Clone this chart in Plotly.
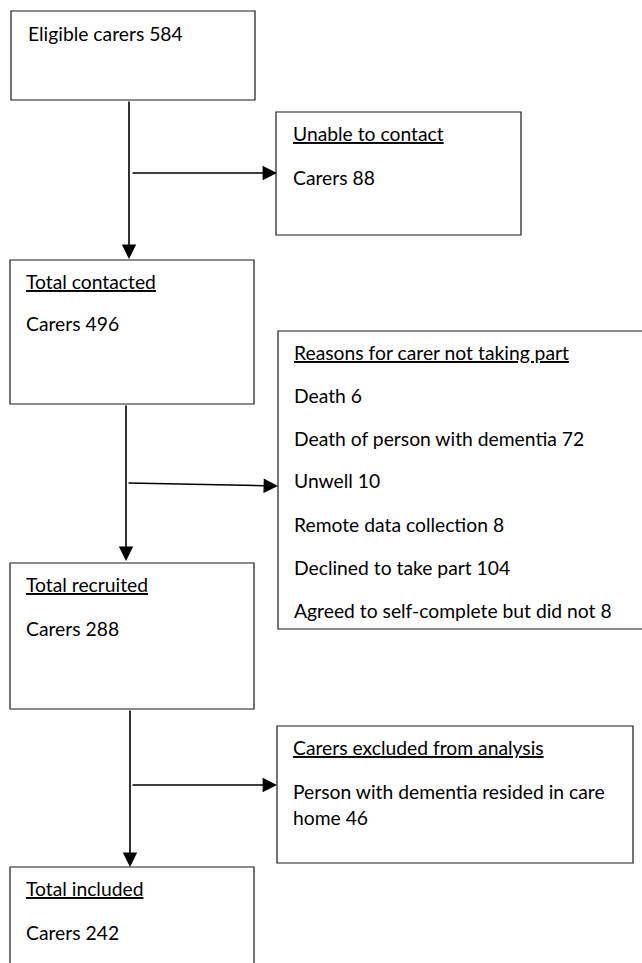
import plotly.graph_objects as go

# ---- data (text content of the flow diagram) ----
eligible = 584
unable_to_contact = 88
contacted = 496
reason_labels = ["Death", "Death of person with dementia", "Unwell",
                 "Remote data collection", "Declined to take part",
                 "Agreed to self-complete but did not"]
reason_counts = [6, 72, 10, 8, 104, 8]
recruited = 288
excluded_care_home = 46
included = 242

FONT = "Lato"
FS = 19.3
LINE = "#1a1a1a"

fig = go.Figure()
shapes = []
annotations = []

def box(x0, y0, x1, y1, open_bottom=False):
    if open_bottom:
        shapes.append(dict(type="path", xref="x", yref="y",
                           path=f"M {x0} {y1} L {x0} {y0} L {x1} {y0} L {x1} {y1}",
                           line=dict(color=LINE, width=1.2)))
    else:
        shapes.append(dict(type="rect", xref="x", yref="y", x0=x0, y0=y0, x1=x1, y1=y1,
                           line=dict(color=LINE, width=1.2), fillcolor="rgba(0,0,0,0)"))

def text(x, y, s, underline=False):
    if underline:
        s = f"<u>{s}</u>"
    annotations.append(dict(x=x, y=y, xref="x", yref="y", text=s, showarrow=False,
                            xanchor="left", yanchor="middle",
                            font=dict(family=FONT, size=FS, color="black")))

def arrow(x0, y0, x1, y1):
    annotations.append(dict(x=x1, y=y1, ax=x0, ay=y0, xref="x", yref="y",
                            axref="x", ayref="y", text="", showarrow=True,
                            arrowhead=2, arrowsize=1.8, arrowwidth=1.6,
                            arrowcolor="black", standoff=0, startstandoff=0))

# Box 1
box(11, 11, 255, 100)
text(26, 33, f"Eligible carers {eligible}")
# Box 2
box(276, 112, 521, 235)
text(291, 133, "Unable to contact", True)
text(291, 177, f"Carers {unable_to_contact}")
# Box 3
box(10, 260, 254, 404)
text(24, 281, "Total contacted", True)
text(24, 323, f"Carers {contacted}")
# Box 4
box(278, 331, 660, 629)
text(292, 352, "Reasons for carer not taking part", True)
ys = [395, 438, 480, 524, 567, 610]
for lab, cnt, yy in zip(reason_labels, reason_counts, ys):
    text(292, yy, f"{lab} {cnt}")
# Box 5
box(10, 563, 254, 709)
text(24, 584, "Total recruited", True)
text(24, 628, f"Carers {recruited}")
# Box 6
box(277, 726, 633, 863)
text(291, 747, "Carers excluded from analysis", True)
text(291, 791, "Person with dementia resided in care")
text(291, 817, f"home {excluded_care_home}")
# Box 7
box(10, 867, 254, 980, open_bottom=True)
text(24, 888, "Total included", True)
text(24, 932, f"Carers {included}")

# arrows
arrow(129, 100, 129, 259)
arrow(131, 173, 277, 173)
arrow(126, 404, 126, 561)
arrow(127, 483, 278, 486)
arrow(130, 709, 130, 867)
arrow(131, 785, 277, 785)

fig.update_layout(
    width=642, height=963,
    margin=dict(l=0, r=0, t=0, b=0),
    paper_bgcolor="white", plot_bgcolor="white",
    xaxis=dict(range=[0, 642], visible=False, fixedrange=True),
    yaxis=dict(range=[963, 0], visible=False, fixedrange=True),
    shapes=shapes, annotations=annotations, showlegend=False,
)
fig.write_html("out.html", config={"displayModeBar": False},
               post_script="document.body.style.margin='0';document.body.style.overflow='hidden';")
